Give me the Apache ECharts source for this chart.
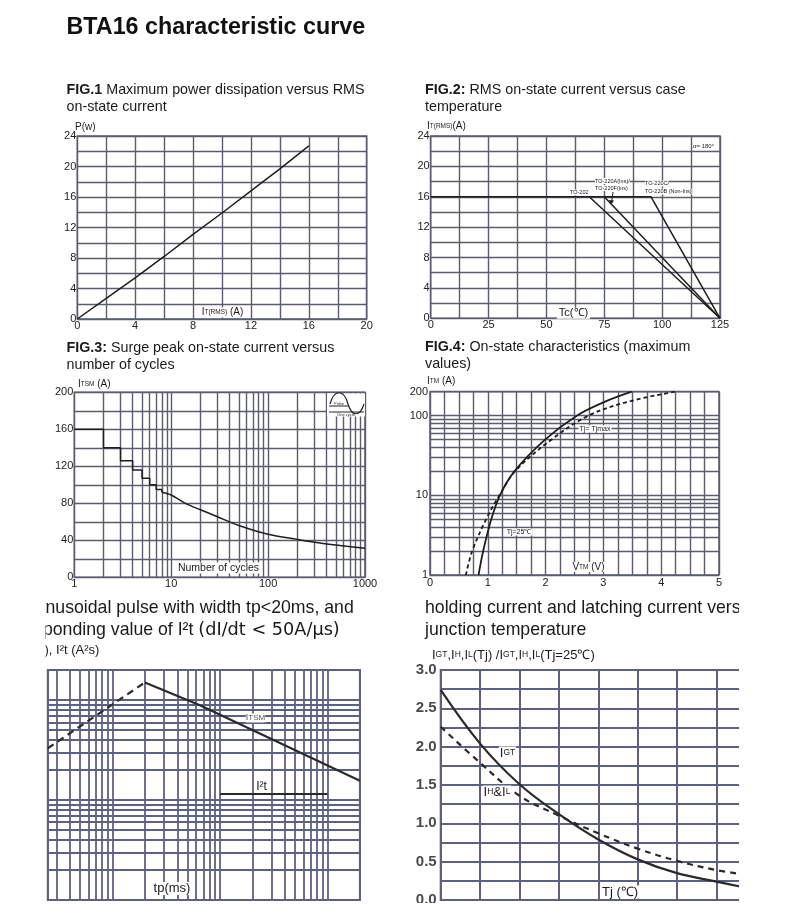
<!DOCTYPE html>
<html><head><meta charset="utf-8">
<script src="https://cdn.jsdelivr.net/npm/echarts@6/dist/echarts.min.js"></script>
<style>html,body{margin:0;padding:0;background:#fff}#c{width:790px;height:921px}</style>
</head><body><div id="c"></div>
<script>
// ---------------- DATA ----------------
// FIG.1 Maximum power dissipation vs RMS on-state current
const fig1Current = [0, 2, 4, 6, 8, 10, 12, 14, 16];
const fig1Power   = [0, 2.7, 5.4, 8.2, 11.1, 13.9, 16.8, 19.7, 22.7];
const fig1XTicks  = [0, 4, 8, 12, 16, 20];
const fig1YTicks  = [0, 4, 8, 12, 16, 20, 24];

// FIG.2 RMS on-state current vs case temperature
const fig2TcTO202  = [0, 68.5, 125];
const fig2ItTO202  = [16, 16, 0];
const fig2TcTO220A = [75, 125];
const fig2ItTO220A = [16, 0];
const fig2TcTO220C = [68.5, 95.2, 125];
const fig2ItTO220C = [16, 16, 0];
const fig2XTicks   = [0, 25, 50, 75, 100, 125];
const fig2YTicks   = [0, 4, 8, 12, 16, 20, 24];

// FIG.3 Surge peak on-state current vs number of cycles
const fig3StepCycles  = [1, 2, 2, 3, 3, 4, 4, 5, 5, 6, 6, 7, 7, 8, 8];
const fig3StepItsm    = [160, 160, 140, 140, 126, 126, 116, 116, 107, 107, 100, 100, 95, 95, 92];
const fig3CurveCycles = [8, 10, 14, 20, 30, 50, 100, 200, 300, 500, 1000];
const fig3CurveItsm   = [92, 89, 80, 73, 65.5, 56, 46.5, 41, 38, 35, 31.3];
const fig3XTicks      = [1, 10, 100, 1000];
const fig3YTicks      = [0, 40, 80, 120, 160, 200];
const fig3MinorCycles = [2, 3, 4, 5, 6, 7, 8, 9, 20, 30, 40, 50, 60, 70, 80, 90, 200, 300, 400, 500, 600, 700, 800, 900];

// FIG.4 On-state characteristics
const fig4VtmTj25   = [0.84, 0.92, 1.06, 1.21, 1.46, 1.99, 2.54, 3.03, 3.49];
const fig4ItmTj25   = [1, 2, 5, 10, 20, 50, 100, 150, 200];
const fig4VtmTjmax  = [0.62, 0.73, 0.97, 1.2, 1.47, 2.1, 2.74, 3.43, 4.24];
const fig4ItmTjmax  = [1, 2, 5, 10, 20, 50, 100, 150, 200];
const fig4XTicks    = [0, 1, 2, 3, 4, 5];
const fig4YTicks    = [1, 10, 100, 200];
const fig4MinorItm  = [2, 3, 4, 5, 6, 7, 8, 9, 20, 30, 40, 50, 60, 70, 80, 90];

// FIG.5 Surge peak current vs pulse width, I2t
const fig5TpDashed   = [0.025, 0.2];
const fig5ItsmDashed = [330, 1500];
const fig5TpItsm     = [0.2, 0.65, 20];
const fig5Itsm       = [1500, 890, 156];
const fig5TpI2t      = [1, 10];
const fig5I2t        = [115, 115];
const fig5MinorTp    = [0.03, 0.04, 0.05, 0.06, 0.07, 0.08, 0.09, 0.2, 0.3, 0.4, 0.5, 0.6, 0.7, 0.8, 0.9, 2, 3, 4, 5, 6, 7, 8, 9];
const fig5MinorY     = [20, 30, 40, 50, 60, 70, 80, 90, 200, 300, 400, 500, 600, 700, 800, 900];

// FIG.6 Relative variation of IGT, IH, IL vs junction temperature
const fig6Tj     = [-40, -20, 0, 20, 40, 60, 80, 100, 115];
const fig6Igt    = [2.74, 2.04, 1.51, 1.12, 0.79, 0.53, 0.35, 0.24, 0.16];
const fig6IhIl   = [2.26, 1.79, 1.36, 1.1, 0.87, 0.67, 0.51, 0.39, 0.33];
const fig6YTicks = [0, 0.5, 1, 1.5, 2, 2.5, 3];

// ---------------- STYLE ----------------
const FONT = "'Liberation Sans', Arial, Helvetica, sans-serif";
const GRID_T = '#5a5d6e';
const GRID_B = '#5d6180';
const INK = '#1e1e1e';

function near(a, b) { return Math.abs(a - b) <= 1e-6 * Math.max(1, Math.abs(b)); }
function tickFmt(ticks, dec) {
  return function (v) {
    for (const t of ticks) if (near(v, t)) return dec ? t.toFixed(dec) : String(t);
    return '';
  };
}
function axisBase(color, width) {
  return {
    axisLine: { show: false }, axisTick: { show: false },
    splitLine: { show: true, lineStyle: { color: color, width: width } }
  };
}
function labelTop(ticks, margin, dec) {
  return { formatter: tickFmt(ticks, dec), fontSize: 11, color: '#222', margin: margin, fontFamily: FONT, hideOverlap: false, showMinLabel: true, showMaxLabel: true };
}
function lineSeries(idx, xs, ys, opt) {
  return Object.assign({
    type: 'line', xAxisIndex: idx, yAxisIndex: idx,
    data: xs.map((x, i) => [x, ys[i]]),
    symbol: 'none', showSymbol: false, silent: true, animation: false, z: 4,
    lineStyle: { color: INK, width: 1.5 }
  }, opt || {});
}
function minorGrid(idx, xVals, yVals, color, width) {
  return {
    type: 'line', xAxisIndex: idx, yAxisIndex: idx, data: [], silent: true, z: 1, animation: false,
    markLine: {
      z: 1, silent: true, animation: false, symbol: ['none', 'none'], label: { show: false },
      emphasis: { disabled: true },
      lineStyle: { type: 'solid', color: color, width: width },
      data: xVals.map(v => ({ xAxis: v })).concat(yVals.map(v => ({ yAxis: v })))
    }
  };
}
function txt(x, y, text, st, z) {
  return {
    type: 'text', x: x, y: y, z: z || 50, silent: true,
    style: Object.assign({ text: text, fill: '#1a1a1a', fontFamily: FONT, fontSize: 14, textAlign: 'left', textVerticalAlign: 'middle' }, st || {})
  };
}
function rich(size) { return { s: { fontSize: size, fontFamily: FONT, fill: '#1a1a1a' } }; }
const BOLD = { b: { fontWeight: 'bold', fontSize: 14.3, fontFamily: FONT, fill: '#1a1a1a' } };

const gridCommon = { show: true, backgroundColor: 'transparent', containLabel: false, outerBoundsMode: 'none' };

const option = {
  animation: false,
  backgroundColor: '#fff',
  textStyle: { fontFamily: FONT },
  grid: [
    Object.assign({ left: 77.3, top: 136, width: 289.4, height: 183, borderColor: GRID_T, borderWidth: 1.5 }, gridCommon),
    Object.assign({ left: 430.7, top: 136, width: 289.3, height: 182.3, borderColor: GRID_T, borderWidth: 1.5 }, gridCommon),
    Object.assign({ left: 74.3, top: 392.3, width: 290.7, height: 185, borderColor: GRID_T, borderWidth: 1.5 }, gridCommon),
    Object.assign({ left: 430, top: 391.7, width: 289, height: 183.3, borderColor: GRID_T, borderWidth: 1.5 }, gridCommon),
    Object.assign({ left: 47.8, top: 670, width: 312.1, height: 230, borderColor: GRID_B, borderWidth: 2 }, gridCommon),
    Object.assign({ left: 440.7, top: 670, width: 354.6, height: 230, borderColor: GRID_B, borderWidth: 2 }, gridCommon)
  ],
  xAxis: [
    Object.assign({ gridIndex: 0, type: 'value', min: 0, max: 20, interval: 2, axisLabel: labelTop(fig1XTicks, 1) }, axisBase(GRID_T, 1.4)),
    Object.assign({ gridIndex: 1, type: 'value', min: 0, max: 125, interval: 12.5, axisLabel: labelTop(fig2XTicks, 1) }, axisBase(GRID_T, 1.4)),
    Object.assign({ gridIndex: 2, type: 'log', logBase: 10, min: 1, max: 1000, axisLabel: labelTop(fig3XTicks, 1) }, axisBase(GRID_T, 1.4)),
    Object.assign({ gridIndex: 3, type: 'value', min: 0, max: 5, interval: 0.25, axisLabel: labelTop(fig4XTicks, 2) }, axisBase(GRID_T, 1.4)),
    Object.assign({ gridIndex: 4, type: 'log', logBase: 10, min: 0.025, max: 20, axisLabel: { show: false } }, axisBase(GRID_B, 1.8)),
    Object.assign({ gridIndex: 5, type: 'value', min: -40, max: 140, interval: 20, axisLabel: { show: false } }, axisBase(GRID_B, 2))
  ],
  yAxis: [
    Object.assign({ gridIndex: 0, type: 'value', min: 0, max: 24, interval: 2, axisLabel: labelTop(fig1YTicks, 1) }, axisBase(GRID_T, 1.4)),
    Object.assign({ gridIndex: 1, type: 'value', min: 0, max: 24, interval: 2, axisLabel: labelTop(fig2YTicks, 1) }, axisBase(GRID_T, 1.4)),
    Object.assign({ gridIndex: 2, type: 'value', min: 0, max: 200, interval: 20, axisLabel: labelTop(fig3YTicks, 1) }, axisBase(GRID_T, 1.4)),
    Object.assign({ gridIndex: 3, type: 'log', logBase: 10, min: 1, max: 200, axisLabel: labelTop(fig4YTicks, 2) }, axisBase(GRID_T, 1.4)),
    Object.assign({ gridIndex: 4, type: 'log', logBase: 10, min: 10, max: 2000, axisLabel: { show: false } }, axisBase(GRID_B, 1.8)),
    Object.assign({ gridIndex: 5, type: 'value', min: 0, max: 3, interval: 0.25,
      axisLabel: { formatter: tickFmt(fig6YTicks, 1), fontSize: 15, fontWeight: 'bold', color: '#4a4a4a', margin: 4, fontFamily: FONT, hideOverlap: false } }, axisBase(GRID_B, 2))
  ],
  series: [
    lineSeries(0, fig1Current, fig1Power),
    lineSeries(1, fig2TcTO202, fig2ItTO202),
    lineSeries(1, fig2TcTO220A, fig2ItTO220A),
    lineSeries(1, fig2TcTO220C, fig2ItTO220C),
    minorGrid(2, fig3MinorCycles, [], GRID_T, 1.4),
    lineSeries(2, fig3StepCycles, fig3StepItsm),
    lineSeries(2, fig3CurveCycles, fig3CurveItsm, { smooth: 0.3 }),
    minorGrid(3, [], fig4MinorItm, GRID_T, 1.4),
    lineSeries(3, fig4VtmTj25, fig4ItmTj25, { smooth: 0.35, lineStyle: { color: INK, width: 1.8 } }),
    lineSeries(3, fig4VtmTjmax, fig4ItmTjmax, { smooth: 0.35, lineStyle: { color: INK, width: 1.8, type: [4, 3] } }),
    minorGrid(4, fig5MinorTp, fig5MinorY, GRID_B, 1.8),
    lineSeries(4, fig5TpDashed, fig5ItsmDashed, { lineStyle: { color: '#2a2a2a', width: 2.2, type: [7, 5] } }),
    lineSeries(4, fig5TpItsm, fig5Itsm, { lineStyle: { color: '#2a2a2a', width: 2.2 } }),
    lineSeries(4, fig5TpI2t, fig5I2t, { lineStyle: { color: '#2a2a2a', width: 2 } }),
    lineSeries(5, fig6Tj, fig6Igt, { smooth: 0.4, lineStyle: { color: '#2a2a2a', width: 2.2 } }),
    lineSeries(5, fig6Tj, fig6IhIl, { smooth: 0.4, lineStyle: { color: '#2a2a2a', width: 2.2, type: [6, 5] } })
  ],
  graphic: { elements: [
    txt(66.5, 28, 'BTA16 characteristic curve', { fontSize: 23.3, fontWeight: 'bold', fill: '#111' }),
    txt(66.5, 90, '{b|FIG.1} Maximum power dissipation versus RMS', { fontSize: 14.3, rich: BOLD }),
    txt(66.5, 107, 'on-state current', { fontSize: 14.3 }),
    txt(425, 90, '{b|FIG.2:} RMS on-state current versus case', { fontSize: 14.3, rich: BOLD }),
    txt(425, 107, 'temperature', { fontSize: 14.3 }),
    txt(66.5, 348.5, '{b|FIG.3:} Surge peak on-state current versus', { fontSize: 14.3, rich: BOLD }),
    txt(66.5, 365.5, 'number of cycles', { fontSize: 14.3 }),
    txt(425, 347, '{b|FIG.4:} On-state characteristics (maximum', { fontSize: 14.3, rich: BOLD }),
    txt(425, 364.5, 'values)', { fontSize: 14.3 }),
    txt(32.7, 608, 'sinusoidal pulse with width tp<20ms, and', { fontSize: 17.7 }),
    txt(-6.2, 630, 'corresponding value of I²t {w|(dI/dt < 50A/μs)}', { fontSize: 17.7,
      rich: { w: { fontSize: 17.7, fontFamily: "'DejaVu Sans', sans-serif", fill: '#1a1a1a' } } }),
    txt(425, 608, 'holding current and latching current versus', { fontSize: 17.7 }),
    txt(425, 630, 'junction temperature', { fontSize: 17.7 }),
    txt(75, 127.5, 'P(w)', { fontSize: 10 }),
    txt(427, 126.5, 'I{s|T(RMS)}(A)', { fontSize: 10, rich: rich(6.5) }),
    txt(78, 384, 'I{s|TSM} (A)', { fontSize: 10, rich: rich(6.5) }),
    txt(427, 381.5, 'I{s|TM} (A)', { fontSize: 10, rich: rich(6.5) }),
    txt(31.5, 650, '(A), I²t (A²s)', { fontSize: 13 }),
    txt(432, 655, 'I{s|GT},I{s|H},I{s|L}(Tj) /I{s|GT},I{s|H},I{s|L}(Tj=25℃)', { fontSize: 13, rich: rich(8.5) }),
    txt(222.5, 312.5, 'I{s|T(RMS)} (A)', { fontSize: 10, textAlign: 'center', backgroundColor: '#fff', padding: [0, 2], rich: rich(6.5) }),
    txt(573.5, 313.3, 'Tc(℃)', { fontSize: 11, textAlign: 'center', backgroundColor: '#fff', padding: [0, 2] }),
    txt(218.5, 568, 'Number of cycles', { fontSize: 10.5, textAlign: 'center', backgroundColor: '#fff', padding: [0, 1] }),
    txt(588.5, 567, 'V{s|TM} (V)', { fontSize: 10, textAlign: 'center', backgroundColor: '#fff', padding: [0, 2], rich: rich(6.5) }),
    txt(595, 429, 'Tj= Tjmax', { fontSize: 7, textAlign: 'center', backgroundColor: '#fff', padding: [0, 1] }),
    txt(519, 532, 'Tj=25℃', { fontSize: 7, textAlign: 'center', backgroundColor: '#fff', padding: [0, 1] }),
    txt(693, 146, 'α= 180°', { fontSize: 6 }),
    txt(570, 192.5, 'TO-202', { fontSize: 5.5, backgroundColor: '#fff' }),
    txt(595, 181, 'TO-220A(Ins)/', { fontSize: 5.5, backgroundColor: '#fff' }),
    txt(595, 188, 'TO-220F(Ins)', { fontSize: 5.5, backgroundColor: '#fff' }),
    txt(645, 183.5, 'TO-220C/', { fontSize: 5.5, backgroundColor: '#fff' }),
    txt(645, 191.5, 'TO-220B (Non-Ins)', { fontSize: 5.5, backgroundColor: '#fff' }),
    { type: 'line', z: 50, silent: true, shape: { x1: 613, y1: 192, x2: 611.5, y2: 203 }, style: { stroke: '#222', lineWidth: 1 } },
    { type: 'polygon', z: 50, silent: true, shape: { points: [[609, 200], [614, 200.5], [611, 205]] }, style: { fill: '#222' } },
    txt(255.5, 718, 'I{s|TSM}', { fontSize: 9, textAlign: 'center', fill: '#555', backgroundColor: '#fff', rich: { s: { fontSize: 8, fill: '#555', fontFamily: FONT } } }),
    txt(261.5, 787, 'I²t', { fontSize: 12, textAlign: 'center', backgroundColor: '#fff', padding: [0, 1] }),
    txt(172, 888.5, 'tp(ms)', { fontSize: 13, textAlign: 'center', backgroundColor: '#fff', padding: [0, 2] }),
    txt(507.5, 753, 'I{s|GT}', { fontSize: 13, textAlign: 'center', backgroundColor: '#fff', padding: [0, 1], rich: rich(8.5) }),
    txt(497, 792, 'I{s|H}&I{s|L}', { fontSize: 13, textAlign: 'center', backgroundColor: '#fff', padding: [0, 1], rich: rich(8.5) }),
    txt(620, 892, 'Tj (℃)', { fontSize: 13, textAlign: 'center', backgroundColor: '#fff', padding: [0, 2] }),
    // FIG.3 waveform icon
    { type: 'rect', z: 40, silent: true, shape: { x: 327, y: 393.5, width: 38, height: 23 }, style: { fill: '#fff' } },
    { type: 'bezierCurve', z: 45, silent: true, shape: { x1: 330, y1: 404, cpx1: 334, cpy1: 389, cpx2: 344, cpy2: 389, x2: 348, y2: 404 }, style: { stroke: '#222', lineWidth: 1.2, fill: null } },
    { type: 'bezierCurve', z: 45, silent: true, shape: { x1: 348, y1: 404, cpx1: 352, cpy1: 417, cpx2: 360, cpy2: 417, x2: 364, y2: 404 }, style: { stroke: '#222', lineWidth: 1.2, fill: null } },
    { type: 'line', z: 45, silent: true, shape: { x1: 329, y1: 406, x2: 349, y2: 406 }, style: { stroke: '#222', lineWidth: 1 } },
    { type: 'line', z: 45, silent: true, shape: { x1: 329, y1: 412, x2: 364, y2: 412 }, style: { stroke: '#222', lineWidth: 1 } },
    txt(339, 403.5, 'Pulse', { fontSize: 4, textAlign: 'center' }, 46),
    txt(346, 415, 'One cycle', { fontSize: 4, textAlign: 'center' }, 46),
    // crop masks of the lower strip
    { type: 'rect', z: 100, silent: true, shape: { x: 0, y: 592, width: 45.5, height: 329 }, style: { fill: '#fff' } },
    { type: 'rect', z: 100, silent: true, shape: { x: 739, y: 592, width: 51, height: 329 }, style: { fill: '#fff' } },
    { type: 'rect', z: 100, silent: true, shape: { x: 0, y: 903, width: 790, height: 18 }, style: { fill: '#fff' } }
  ] }
};

const chart = echarts.init(document.getElementById('c'), null, { renderer: 'canvas' });
chart.setOption(option);
</script>
</body></html>
